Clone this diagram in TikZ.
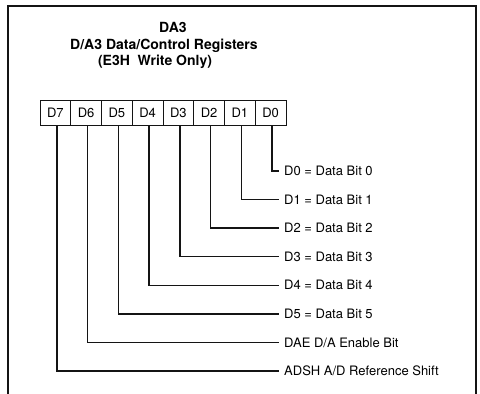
\documentclass[tikz,border=0pt]{standalone}
\usepackage{fontspec}
\setmainfont{TeX Gyre Heros}
\usepackage{tikz}
\usetikzlibrary{positioning}
\definecolor{regInk}{gray}{0.08}

\begin{document}
\begin{tikzpicture}[x=1pt,y=-1pt,
    regbit/.style={draw=regInk,line width=1pt,minimum width=30.75pt,minimum height=25.5pt,
      inner sep=0pt,outer sep=0pt,font=\fontsize{13}{15}\selectfont},
    bitname/.style={anchor=west,inner xsep=5pt,inner ysep=0pt,text height=9.3pt,text depth=0pt,
      font=\fontsize{13}{15}\selectfont},
    bitlead/.style={draw=regInk,line width=1.3pt},
    heading/.style={anchor=base,font=\fontsize{14}{16}\selectfont\bfseries}]
  \useasboundingbox (0,0) rectangle (480,394);
  % Frame, open at the bottom
  \draw[regInk,line width=1.5pt] (8,394) -- (8,6) -- (476,6) -- (476,394);
  % Title
  \node[heading] (ttl) at (173,32) {DA3};
  \node[heading] (sub) at (164,49) {D/A3 Data/Control Registers};
  \node[heading] (acc) at (155,65) {(E3H\ \ Write Only)};
  % Register cells
  \node[regbit,anchor=north west] (b7) at (40,100) {D7};
  \foreach \i [remember=\i as \prev (initially 7)] in {6,...,0}
    \node[regbit,right=0pt of b\prev] (b\i) {D\i};
  % Bit names
  \foreach \i/\txt in {0/{D0 = Data Bit 0},1/{D1 = Data Bit 1},2/{D2 = Data Bit 2},
      3/{D3 = Data Bit 3},4/{D4 = Data Bit 4},5/{D5 = Data Bit 5},
      6/{DAE D/A Enable Bit},7/{ADSH A/D Reference Shift}}
    \node[bitname] (l\i) at (279,171+28.57*\i) {\txt};
  % Leads
  \foreach \i in {0,...,7}
    \draw[bitlead] ([xshift=1.5pt]b\i.south) |- (l\i.west);
\end{tikzpicture}
\end{document}
